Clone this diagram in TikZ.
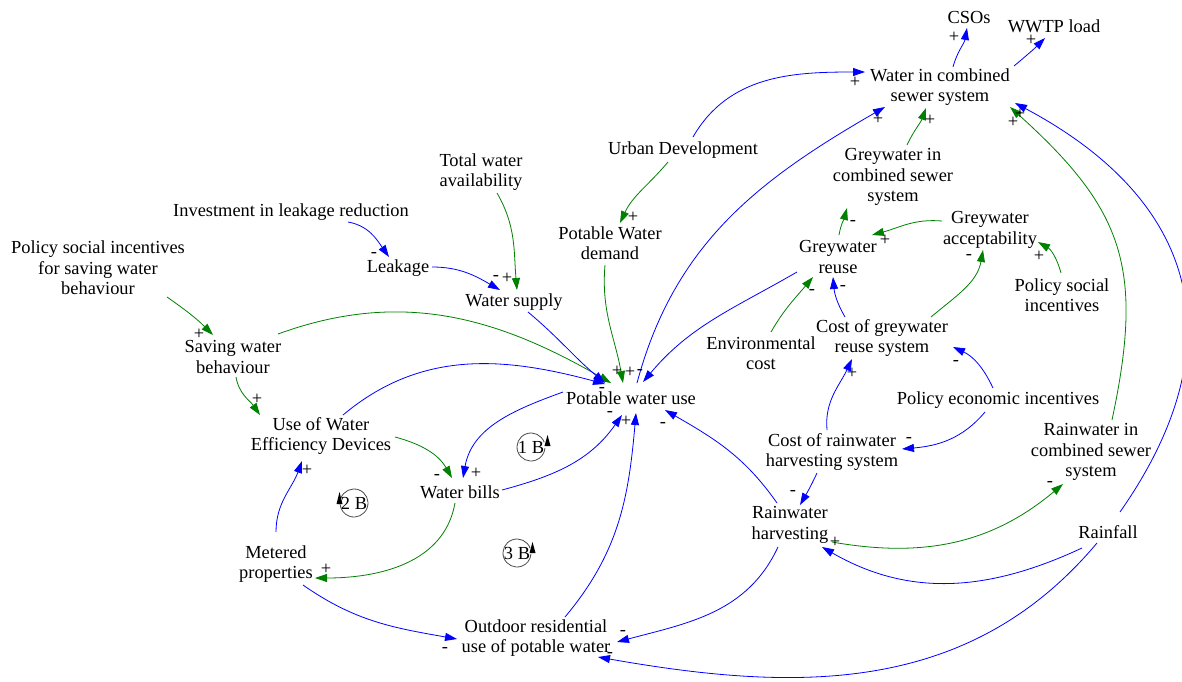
\documentclass[tikz,border=0pt]{standalone}
\usepackage{fontspec}
\setmainfont{Liberation Serif}
\usetikzlibrary{arrows.meta}
\begin{document}
\begin{tikzpicture}[x=0.75pt,y=-0.75pt,
  v/.style={align=center,inner sep=0pt,font=\fontsize{13.8}{15.4}\selectfont},
  sg/.style={inner sep=0pt,font=\fontsize{13.8}{15.4}\selectfont},
  bl/.style={draw=blue,line width=0.6pt,-{Triangle[length=9pt,width=6pt]}},
  gr/.style={draw=green!50!black,line width=0.6pt,-{Triangle[length=9pt,width=6pt]}},
  lp/.style={draw=black!70,line width=0.6pt},
  lh/.style={fill=black}]
\useasboundingbox (0,0) rectangle (1182,682);
% variables
\node[v] (csos) at (969,17) {CSOs};
\node[v] (wwtp) at (1054,26) {WWTP load};
\node[v] (wsew) at (940,87) {Water in combined\\sewer system};
\node[v] (urban) at (683,150) {Urban Development};
\node[v] (twa) at (481,172) {Total water\\availability};
\node[v] (inv) at (291,212) {Investment in leakage reduction};
\node[v] (psi) at (98,268) {Policy social incentives\\for saving water\\behaviour};
\node[v] (leak) at (398,268) {Leakage};
\node[v] (pwd) at (610,243) {Potable Water\\demand};
\node[v] (gcs) at (893,177) {Greywater in\\combined sewer\\system};
\node[v] (gacc) at (990,230) {Greywater\\acceptability};
\node[v] (greuse) at (838,257) {Greywater\\reuse};
\node[v] (psi2) at (1062,295) {Policy social\\incentives};
\node[v] (wsup) at (514,302) {Water supply};
\node[v] (swb) at (233,357) {Saving water\\behaviour};
\node[v] (env) at (761,353) {Environmental\\cost};
\node[v] (cgr) at (882,338) {Cost of greywater\\reuse system};
\node[v] (pwu) at (631,398) {Potable water use};
\node[v] (pei) at (998,400) {Policy economic incentives};
\node[v] (uwed) at (321,436) {Use of Water\\Efficiency Devices};
\node[v] (rcs) at (1091,452) {Rainwater in\\combined sewer\\system};
\node[v] (crh) at (832,452) {Cost of rainwater\\harvesting system};
\node[v] (wbills) at (460,492) {Water bills};
\node[v] (rh) at (790,525) {Rainwater\\harvesting};
\node[v] (rain) at (1108,532) {Rainfall};
\node[v] (met) at (276,564) {Metered\\properties};
\node[v] (outd) at (536,638) {Outdoor residential\\use of potable water};
% loop markers
\node[v] (l1) at (531,447) {1 B};
\node[v] (l2) at (354,503) {2 B};
\node[v] (l3) at (517,553) {3 B};
\draw[lp] ([shift={(20:10.5pt)}]l1.center) arc[start angle=20,end angle=355,radius=10.5pt];
\fill[lh] ([shift={(16.5,-12)}]l1.center) -- ([shift={(19.5,-1)}]l1.center) -- ([shift={(13.5,-1)}]l1.center) -- cycle;
\draw[lp] ([shift={(160:10.5pt)}]l2.center) arc[start angle=160,end angle=-175,radius=10.5pt];
\fill[lh] ([shift={(-14.5,-11)}]l2.center) -- ([shift={(-11.5,1)}]l2.center) -- ([shift={(-17.5,1)}]l2.center) -- cycle;
\draw[lp] ([shift={(20:10.5pt)}]l3.center) arc[start angle=20,end angle=355,radius=10.5pt];
\fill[lh] ([shift={(15.5,-11)}]l3.center) -- ([shift={(18.5,0)}]l3.center) -- ([shift={(12.5,0)}]l3.center) -- cycle;
% connectors
\draw[bl] ([shift={(13,-20)}]wsew.center) to[out=75,in=-100] ([shift={(-2,11)}]csos.center);
\draw[bl] ([shift={(74,-21)}]wsew.center) to[out=40,in=-135] ([shift={(-9,12)}]wwtp.center);
\draw[bl] ([shift={(10,-13)}]urban.center) to[out=60,in=180] ([shift={(-75,-15)}]wsew.center);
\draw[gr] ([shift={(-15,12)}]urban.center) to[out=-130,in=65] ([shift={(10,-20)}]pwd.center);
\draw[gr] ([shift={(16,21)}]twa.center) to[out=-60,in=95] ([shift={(3,-12)}]wsup.center);
\draw[bl] ([shift={(57,10)}]inv.center) to[out=-10,in=125] ([shift={(-9,-11)}]leak.center);
\draw[bl] ([shift={(34,-1)}]leak.center) to[out=0,in=150] ([shift={(-14,-12)}]wsup.center);
\draw[gr] ([shift={(69,29)}]psi.center) to[out=-35,in=135] ([shift={(-20,-22)}]swb.center);
\draw[gr] ([shift={(45,-23)}]swb.center) to[out=20,in=150] ([shift={(-20,-15)}]pwu.center);
\draw[gr] ([shift={(3,20)}]swb.center) to[out=-80,in=125] ([shift={(-61,-21)}]uwed.center);
\draw[bl] ([shift={(22,-21)}]uwed.center) to[out=40,in=165] ([shift={(-26,-14)}]pwu.center);
\draw[gr] ([shift={(74,1)}]uwed.center) to[out=-15,in=120] ([shift={(-8,-14)}]wbills.center);
\draw[bl] ([shift={(0,-32)}]met.center) to[out=90,in=-110] ([shift={(-19,25)}]uwed.center);
\draw[gr] ([shift={(-5,11)}]wbills.center) to[out=-100,in=0] ([shift={(39,14)}]met.center);
\draw[bl] ([shift={(27,21)}]met.center) to[out=-35,in=170] ([shift={(-79,1)}]outd.center);
\draw[bl] ([shift={(-68,-6)}]pwu.center) to[out=-160,in=80] ([shift={(3,-14)}]wbills.center);
\draw[bl] ([shift={(42,-2)}]wbills.center) to[out=15,in=-125] ([shift={(-9,17)}]pwu.center);
\draw[bl] ([shift={(29,-21)}]outd.center) to[out=50,in=-95] ([shift={(5,15)}]pwu.center);
\draw[bl] ([shift={(-12,22)}]rh.center) to[out=-115,in=15] ([shift={(81,4)}]outd.center);
\draw[bl] ([shift={(-11,11)}]rain.center) to[out=-130,in=-10] ([shift={(62,19)}]outd.center);
\draw[bl] ([shift={(-26,16)}]rain.center) to[out=-155,in=-30] ([shift={(32,22)}]rh.center);
\draw[gr] ([shift={(42,17)}]rh.center) to[out=-10,in=-140] ([shift={(-28,32)}]rcs.center);
\draw[gr] ([shift={(21,-32)}]rcs.center) to[out=78,in=-42,looseness=1.2] ([shift={(70,20)}]wsew.center);
\draw[bl] ([shift={(12,-20)}]rain.center) to[out=55,in=-28,looseness=1.25] ([shift={(75,16)}]wsew.center);
\draw[bl] ([shift={(6,-15)}]pwu.center) to[out=75,in=-150] ([shift={(-55,20)}]wsew.center);
\draw[gr] ([shift={(14,-32)}]gcs.center) to[out=65,in=-110] ([shift={(-14,21)}]wsew.center);
\draw[gr] ([shift={(1,-22)}]greuse.center) to[out=80,in=-105] ([shift={(-46,31)}]gcs.center);
\draw[gr] ([shift={(-48,-9)}]gacc.center) to[out=175,in=15] ([shift={(34,-22)}]greuse.center);
\draw[gr] ([shift={(-1,-22)}]psi2.center) to[out=105,in=-30] ([shift={(48,12)}]gacc.center);
\draw[gr] ([shift={(49,-21)}]cgr.center) to[out=40,in=-100] ([shift={(-7,20)}]gacc.center);
\draw[bl] ([shift={(-37,-21)}]cgr.center) to[out=120,in=-85] ([shift={(-5,20)}]greuse.center);
\draw[gr] ([shift={(10,-21)}]env.center) to[out=60,in=-130] ([shift={(-25,20)}]greuse.center);
\draw[bl] ([shift={(-41,15)}]greuse.center) to[out=-150,in=50] ([shift={(12,-16)}]pwu.center);
\draw[bl] ([shift={(-5,-12)}]pei.center) to[out=115,in=-25] ([shift={(71,9)}]cgr.center);
\draw[bl] ([shift={(-13,12)}]pei.center) to[out=-130,in=5] ([shift={(70,-3)}]crh.center);
\draw[bl] ([shift={(-5,-22)}]crh.center) to[out=95,in=-115] ([shift={(-30,21)}]cgr.center);
\draw[bl] ([shift={(-15,21)}]crh.center) to[out=-115,in=60] ([shift={(10,-20)}]rh.center);
\draw[bl] ([shift={(-13,-22)}]rh.center) to[out=125,in=-30] ([shift={(34,12)}]pwu.center);
\draw[bl] ([shift={(14,10)}]wsup.center) to[out=-40,in=140] ([shift={(-26,-15)}]pwu.center);
\draw[gr] ([shift={(-5,22)}]pwd.center) to[out=-95,in=100] ([shift={(-8,-15)}]pwu.center);
% polarity signs
\node[sg] (s1) at (954,37) {+};
\node[sg] (s2) at (1031,40) {+};
\node[sg] (s3) at (855,82) {+};
\node[sg] (s4) at (633,217) {+};
\node[sg] (s5) at (507,278) {+};
\node[sg] (s6) at (374,255) {-};
\node[sg] (s7) at (496,278) {-};
\node[sg] (s8) at (199,334) {+};
\node[sg] (s9) at (257,399) {+};
\node[sg] (s10) at (437,477) {-};
\node[sg] (s11) at (307,470) {+};
\node[sg] (s12) at (326,569) {+};
\node[sg] (s13) at (445,650) {-};
\node[sg] (s14) at (476,473) {+};
\node[sg] (s15) at (610,414) {-};
\node[sg] (s16) at (626,421) {+};
\node[sg] (s17) at (623,633) {-};
\node[sg] (s18) at (610,655) {-};
\node[sg] (s19) at (835,542) {+};
\node[sg] (s20) at (1050,484) {-};
\node[sg] (s21) at (1013,122) {+};
\node[sg] (s22) at (1020,114) {+};
\node[sg] (s23) at (878,119) {+};
\node[sg] (s24) at (930,120) {+};
\node[sg] (s25) at (853,223) {-};
\node[sg] (s26) at (885,240) {+};
\node[sg] (s27) at (1039,256) {+};
\node[sg] (s28) at (969,257) {-};
\node[sg] (s29) at (843,288) {-};
\node[sg] (s30) at (812,292) {-};
\node[sg] (s31) at (640,372) {-};
\node[sg] (s32) at (956,363) {-};
\node[sg] (s33) at (909,440) {-};
\node[sg] (s34) at (852,373) {+};
\node[sg] (s35) at (793,493) {-};
\node[sg] (s36) at (663,425) {-};
\node[sg] (s37) at (617,371) {+};
\node[sg] (s38) at (630,372) {+};
\node[sg] (s39) at (602,390) {-};
\end{tikzpicture}
\end{document}
